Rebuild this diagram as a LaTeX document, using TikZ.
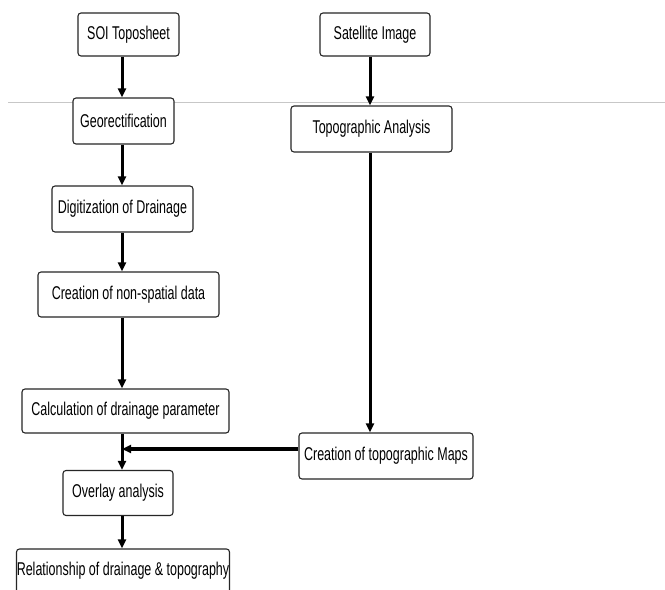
\documentclass[tikz,border=0pt]{standalone}
\usepackage{fontspec}
\setmainfont{Liberation Sans}[FakeStretch=0.675]
\usetikzlibrary{arrows.meta}
\tikzset{
  box/.style={draw=black!85, line width=1.1bp, rounded corners=3bp, fill=white,
    inner sep=0pt, align=center, font=\fontsize{18.5bp}{20bp}\selectfont},
  flow/.style={line width=3bp, -{Triangle[length=9bp,width=8bp]}},
}
\begin{document}
\begin{tikzpicture}[x=1bp,y=-1bp]
\clip (0,0) rectangle (665,590);
\fill[white] (0,0) rectangle (665,590);
\coordinate (lc) at (122,0);
\coordinate (rc) at (370,0);
\coordinate (hy) at (0,449);
\coordinate (gl) at (8,103);
\coordinate (gr) at (665,103);
\draw[black!22, line width=1bp] (gl) -- (gr);

\node[box, minimum width=101bp, minimum height=43bp] (soi) at (128.5,34.5) {SOI Toposheet};
\node[box, minimum width=110bp, minimum height=43bp] (sat) at (375,34.5) {Satellite Image};
\node[box, minimum width=101bp, minimum height=46bp] (geo) at (123.5,121) {Georectification};
\node[box, minimum width=161bp, minimum height=46bp] (topo) at (371.5,129) {Topographic Analysis};
\node[box, minimum width=141bp, minimum height=46bp] (dig) at (122.5,209) {Digitization of Drainage};
\node[box, minimum width=181bp, minimum height=45bp] (nonsp) at (128.5,294.5) {\raisebox{4bp}{Creation of non-spatial data}};
\node[box, minimum width=207bp, minimum height=44bp] (calc) at (125.5,411) {Calculation of drainage parameter};
\node[box, minimum width=174bp, minimum height=46bp] (maps) at (386,456) {\raisebox{5bp}{Creation of topographic Maps}};
\node[box, minimum width=110bp, minimum height=45bp] (over) at (118,493) {Overlay analysis};
\node[box, minimum width=213bp, minimum height=46bp] (rel) at (123,572) {\raisebox{6bp}{Relationship of drainage \& topography}};

\draw[flow] (soi.south -| lc) -- (geo.north -| lc);
\draw[flow] (geo.south -| lc) -- (dig.north -| lc);
\draw[flow] (dig.south -| lc) -- (nonsp.north -| lc);
\draw[flow] (nonsp.south -| lc) -- (calc.north -| lc);
\draw[flow] (calc.south -| lc) -- (over.north -| lc);
\draw[flow] (over.south -| lc) -- (rel.north -| lc);
\draw[flow] (sat.south -| rc) -- (topo.north -| rc);
\draw[flow] (topo.south -| rc) -- (maps.north -| rc);
\draw[flow, line width=4bp, shorten >=-1.5bp] (maps.west |- hy) -- ([xshift=1.5bp]lc |- hy);
\end{tikzpicture}
\end{document}
